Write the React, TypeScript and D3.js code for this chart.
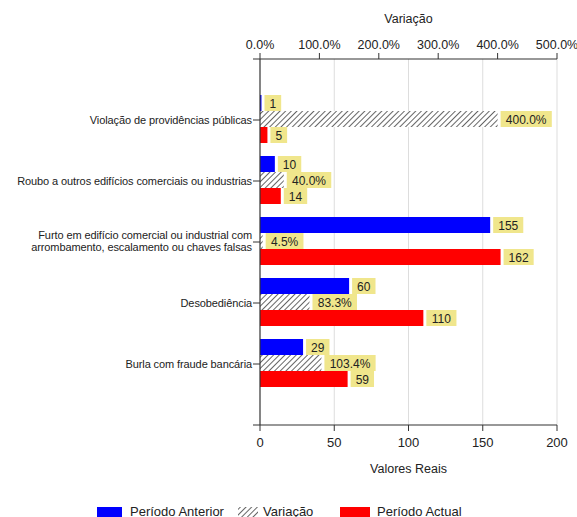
import React from "react";
import * as d3 from "d3";

const categories: string[][] = [
  ["Violação de providências públicas"],
  ["Roubo a outros edifícios comerciais ou industrias"],
  ["Furto em edifício comercial ou industrial com", "arrombamento, escalamento ou chaves falsas"],
  ["Desobediência"],
  ["Burla com fraude bancária"],
];
const anterior = [1, 10, 155, 60, 29];
const variacao = [400, 40, 4.5, 83.3, 103.4];
const actual = [5, 14, 162, 110, 59];
const valueTicks = [0, 50, 100, 150, 200];
const pctTicks = [0, 100, 200, 300, 400, 500];

const W = 577;
const H = 517;
const left = 260;
const right = 557;
const top = 59;
const bottom = 425;
const FONT = "Liberation Sans, Arial, sans-serif";
const LABEL_BG = "#F0E68C";

export default function App() {
  const keys = categories.map((_, i) => String(i));
  const y = d3.scalePoint<string>().domain(keys).range([top, bottom]).padding(1);
  const x = d3.scaleLinear().domain([0, 200]).range([left, right]);
  const xp = d3.scaleLinear().domain([0, 500]).range([left, right]);
  const barH = 16;

  const label = (xEnd: number, cy: number, text: string, key: string) => {
    const tw = text.length * 6.7 - (text.includes(".") ? 3 : 0) + (text.includes("%") ? 4 : 0);
    const bw = tw + 10;
    return (
      <g key={key}>
        <rect x={xEnd + 3} y={cy - 8} width={bw} height={16} fill={LABEL_BG} />
        <text x={xEnd + 3 + bw / 2} y={cy + 4.5} textAnchor="middle" fontSize={12} fontFamily={FONT} fill="#222">
          {text}
        </text>
      </g>
    );
  };

  return (
    <svg width={W} height={H} style={{ position: "absolute", left: 0, top: 0, background: "#fff" }}>
      <defs>
        <pattern id="hatch" patternUnits="userSpaceOnUse" width={4} height={4} patternTransform="rotate(45)">
          <rect width={4} height={4} fill="#fff" />
          <line x1={0} y1={0} x2={0} y2={4} stroke="#555" strokeWidth={1.8} />
        </pattern>
      </defs>

      {/* grid */}
      {valueTicks.slice(1).map((t) => (
        <line key={"g" + t} x1={x(t)} x2={x(t)} y1={top} y2={bottom} stroke="#ddd" strokeWidth={1} />
      ))}

      {/* bars */}
      {keys.map((k, i) => {
        const cy = y(k)!;
        const y0 = cy - 1.5 * barH - 1;
        return (
          <g key={"b" + k}>
            <rect x={x(0)} y={y0} width={x(anterior[i]) - x(0)} height={barH} fill="#0000FF" />
            <rect x={xp(0)} y={y0 + barH} width={xp(variacao[i]) - xp(0)} height={barH} fill="url(#hatch)" />
            <rect x={x(0)} y={y0 + 2 * barH} width={x(actual[i]) - x(0)} height={barH} fill="#FF0000" />
          </g>
        );
      })}

      {/* labels */}
      {keys.map((k, i) => {
        const cy = y(k)!;
        const y0 = cy - 1.5 * barH - 1;
        return (
          <g key={"l" + k}>
            {label(x(anterior[i]), y0 + barH / 2, String(anterior[i]), "a")}
            {label(xp(variacao[i]), y0 + 1.5 * barH, variacao[i].toFixed(1) + "%", "v")}
            {label(x(actual[i]), y0 + 2.5 * barH, String(actual[i]), "c")}
          </g>
        );
      })}

      {/* y axis */}
      <line x1={left} x2={left} y1={top} y2={bottom} stroke="#333" strokeWidth={1.2} />
      {keys.map((k, i) => {
        const cy = y(k)!;
        const lines = categories[i];
        return (
          <g key={"y" + k}>
            <line x1={left - 7} x2={left} y1={cy} y2={cy} stroke="#333" />
            {lines.map((ln, j) => (
              <text
                key={j}
                x={left - 8}
                y={cy + 4 + (j - (lines.length - 1) / 2) * 12 - (lines.length > 1 ? 1 : 0)}
                textAnchor="end"
                fontSize={11}
                fontFamily={FONT}
                letterSpacing={-0.1}
                fill="#222"
              >
                {ln}
              </text>
            ))}
          </g>
        );
      })}

      {/* top axis (percent) */}
      <line x1={left - 7} x2={right} y1={top} y2={top} stroke="#333" strokeWidth={1.2} />
      {pctTicks.map((t) => (
        <g key={"p" + t}>
          <line x1={xp(t)} x2={xp(t)} y1={top - 6} y2={top} stroke="#333" />
          <text x={xp(t)} y={top - 10} textAnchor="middle" fontSize={12.5} fontFamily={FONT} fill="#222">
            {t.toFixed(1) + "%"}
          </text>
        </g>
      ))}
      <text x={(left + right) / 2} y={23} textAnchor="middle" fontSize={12.5} fontFamily={FONT} fill="#222">
        Variação
      </text>

      {/* bottom axis */}
      <line x1={left - 7} x2={right} y1={bottom} y2={bottom} stroke="#333" strokeWidth={1.2} />
      {valueTicks.map((t) => (
        <g key={"v" + t}>
          <line x1={x(t)} x2={x(t)} y1={bottom} y2={bottom + 6} stroke="#333" />
          <text x={x(t)} y={bottom + 22} textAnchor="middle" fontSize={13} fontFamily={FONT} fill="#222">
            {t}
          </text>
        </g>
      ))}
      <text x={(left + right) / 2} y={473} textAnchor="middle" fontSize={12.5} fontFamily={FONT} fill="#222">
        Valores Reais
      </text>

      {/* legend */}
      <g>
        <rect x={97} y={507} width={25} height={12} fill="#0000FF" />
        <text x={130} y={516} fontSize={13} fontFamily={FONT} fill="#222">Período Anterior</text>
        <rect x={238} y={507} width={20} height={12} fill="url(#hatch)" />
        <text x={263} y={516} fontSize={13} fontFamily={FONT} fill="#222">Variação</text>
        <rect x={340} y={507} width={30} height={12} fill="#FF0000" />
        <text x={377} y={516} fontSize={13} fontFamily={FONT} fill="#222">Período Actual</text>
      </g>
    </svg>
  );
}
